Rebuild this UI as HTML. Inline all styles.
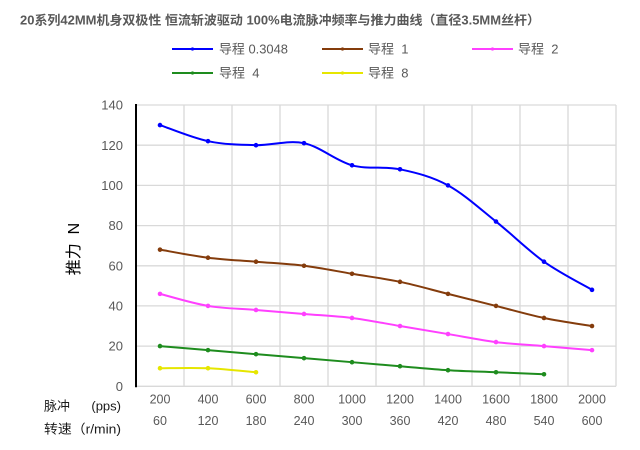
<!DOCTYPE html>
<html>
<head>
<meta charset="utf-8">
<style>
html,body{margin:0;padding:0;background:#fff;}
svg{display:block;}
text{font-family:"Liberation Sans","Noto Sans CJK SC",sans-serif;}
</style>
</head>
<body>
<svg id="chart" width="640" height="450" viewBox="0 0 640 450" xmlns="http://www.w3.org/2000/svg">
<rect width="640" height="450" fill="#fff"/>
<text x="20" y="24.5" font-size="12.5" font-weight="bold" fill="#595959" textLength="520" lengthAdjust="spacingAndGlyphs">20系列42MM机身双极性 恒流斩波驱动 100%电流脉冲频率与推力曲线（直径3.5MM丝杆）</text>

<!-- legend -->
<g font-size="13" fill="#595959">
<line x1="172" y1="49" x2="213" y2="49" stroke="#0000ff" stroke-width="2"/>
<circle cx="192.5" cy="49" r="1.6" fill="#0000ff"/>
<text x="219" y="53.5" textLength="69" lengthAdjust="spacingAndGlyphs">导程 0.3048</text>
<line x1="322" y1="49" x2="363" y2="49" stroke="#843c0c" stroke-width="2"/>
<circle cx="342.5" cy="49" r="1.6" fill="#843c0c"/>
<text x="368" y="53.5" xml:space="preserve">导程  1</text>
<line x1="472" y1="49" x2="513" y2="49" stroke="#ff40ff" stroke-width="2"/>
<circle cx="492.5" cy="49" r="1.6" fill="#ff40ff"/>
<text x="518" y="53.5" xml:space="preserve">导程  2</text>
<line x1="172" y1="73" x2="213" y2="73" stroke="#1e8c1e" stroke-width="2"/>
<circle cx="192.5" cy="73" r="1.6" fill="#1e8c1e"/>
<text x="219" y="77.5" xml:space="preserve">导程  4</text>
<line x1="322" y1="73" x2="363" y2="73" stroke="#e6e600" stroke-width="2"/>
<circle cx="342.5" cy="73" r="1.6" fill="#e6e600"/>
<text x="368" y="77.5" xml:space="preserve">导程  8</text>
</g>

<!-- grid -->
<g stroke="#d9d9d9" stroke-width="1.3" fill="none">
<line x1="136" y1="105" x2="616" y2="105"/>
<line x1="136" y1="145.2" x2="616" y2="145.2"/>
<line x1="136" y1="185.4" x2="616" y2="185.4"/>
<line x1="136" y1="225.6" x2="616" y2="225.6"/>
<line x1="136" y1="265.8" x2="616" y2="265.8"/>
<line x1="136" y1="305.9" x2="616" y2="305.9"/>
<line x1="136" y1="346.1" x2="616" y2="346.1"/>
<line x1="136" y1="386.3" x2="616" y2="386.3"/>
<line x1="184" y1="105" x2="184" y2="386.3"/>
<line x1="232" y1="105" x2="232" y2="386.3"/>
<line x1="280" y1="105" x2="280" y2="386.3"/>
<line x1="328" y1="105" x2="328" y2="386.3"/>
<line x1="376" y1="105" x2="376" y2="386.3"/>
<line x1="424" y1="105" x2="424" y2="386.3"/>
<line x1="472" y1="105" x2="472" y2="386.3"/>
<line x1="520" y1="105" x2="520" y2="386.3"/>
<line x1="568" y1="105" x2="568" y2="386.3"/>
<line x1="616" y1="105" x2="616" y2="386.3"/>
</g>
<line x1="136" y1="104" x2="136" y2="387.3" stroke="#000" stroke-width="2"/>

<!-- y tick labels -->
<g font-size="13" fill="#595959" text-anchor="end">
<text x="123" y="109.6">140</text>
<text x="123" y="149.8">120</text>
<text x="123" y="190">100</text>
<text x="123" y="230.2">80</text>
<text x="123" y="270.4">60</text>
<text x="123" y="310.5">40</text>
<text x="123" y="350.7">20</text>
<text x="123" y="390.9">0</text>
</g>

<!-- y title -->
<text transform="translate(79,249) rotate(-90)" text-anchor="middle" font-size="16" fill="#000" xml:space="preserve">推力  N</text>

<!-- x labels -->
<g font-size="12.5" fill="#595959" text-anchor="middle">
<text x="160" y="403.5">200</text>
<text x="208" y="403.5">400</text>
<text x="256" y="403.5">600</text>
<text x="304" y="403.5">800</text>
<text x="352" y="403.5">1000</text>
<text x="400" y="403.5">1200</text>
<text x="448" y="403.5">1400</text>
<text x="496" y="403.5">1600</text>
<text x="544" y="403.5">1800</text>
<text x="592" y="403.5">2000</text>
<text x="160" y="425">60</text>
<text x="208" y="425">120</text>
<text x="256" y="425">180</text>
<text x="304" y="425">240</text>
<text x="352" y="425">300</text>
<text x="400" y="425">360</text>
<text x="448" y="425">420</text>
<text x="496" y="425">480</text>
<text x="544" y="425">540</text>
<text x="592" y="425">600</text>
</g>
<g font-size="13" fill="#1a1a1a">
<text x="44" y="410.5">脉冲</text>
<text x="121" y="410.5" text-anchor="end">(pps)</text>
<text x="44" y="433.5" textLength="77" lengthAdjust="spacingAndGlyphs">转速（r/min)</text>
</g>

<g id="series"></g>
</svg>
<script>
(function(){
  var y0=386.3, s=281.3/140;
  var data=[
    ["#0000ff",[130,122,120,121,110,108,100,82,62,48]],
    ["#843c0c",[68,64,62,60,56,52,46,40,34,30]],
    ["#ff40ff",[46,40,38,36,34,30,26,22,20,18]],
    ["#1e8c1e",[20,18,16,14,12,10,8,7,6]],
    ["#e6e600",[9,9,7]]
  ];
  var g=document.getElementById('series');
  var NS="http://www.w3.org/2000/svg";
  data.forEach(function(d){
    var pts=d[1].map(function(v,i){return [160+48*i, y0-v*s];});
    var p="M"+pts[0][0]+","+pts[0][1].toFixed(2);
    for(var i=0;i<pts.length-1;i++){
      var p0=pts[i-1]||pts[i], p1=pts[i], p2=pts[i+1], p3=pts[i+2]||pts[i+1];
      var c1x=p1[0]+(p2[0]-p0[0])/6, c1y=p1[1]+(p2[1]-p0[1])/6;
      var c2x=p2[0]-(p3[0]-p1[0])/6, c2y=p2[1]-(p3[1]-p1[1])/6;
      p+=" C"+c1x.toFixed(2)+","+c1y.toFixed(2)+" "+c2x.toFixed(2)+","+c2y.toFixed(2)+" "+p2[0]+","+p2[1].toFixed(2);
    }
    var path=document.createElementNS(NS,"path");
    path.setAttribute("d",p);
    path.setAttribute("fill","none");
    path.setAttribute("stroke",d[0]);
    path.setAttribute("stroke-width","2");
    path.setAttribute("stroke-linejoin","round");
    g.appendChild(path);
    pts.forEach(function(pt){
      var c=document.createElementNS(NS,"circle");
      c.setAttribute("cx",pt[0]);c.setAttribute("cy",pt[1].toFixed(2));
      c.setAttribute("r","2.3");c.setAttribute("fill",d[0]);
      g.appendChild(c);
    });
  });
})();
</script>
</body>
</html>
